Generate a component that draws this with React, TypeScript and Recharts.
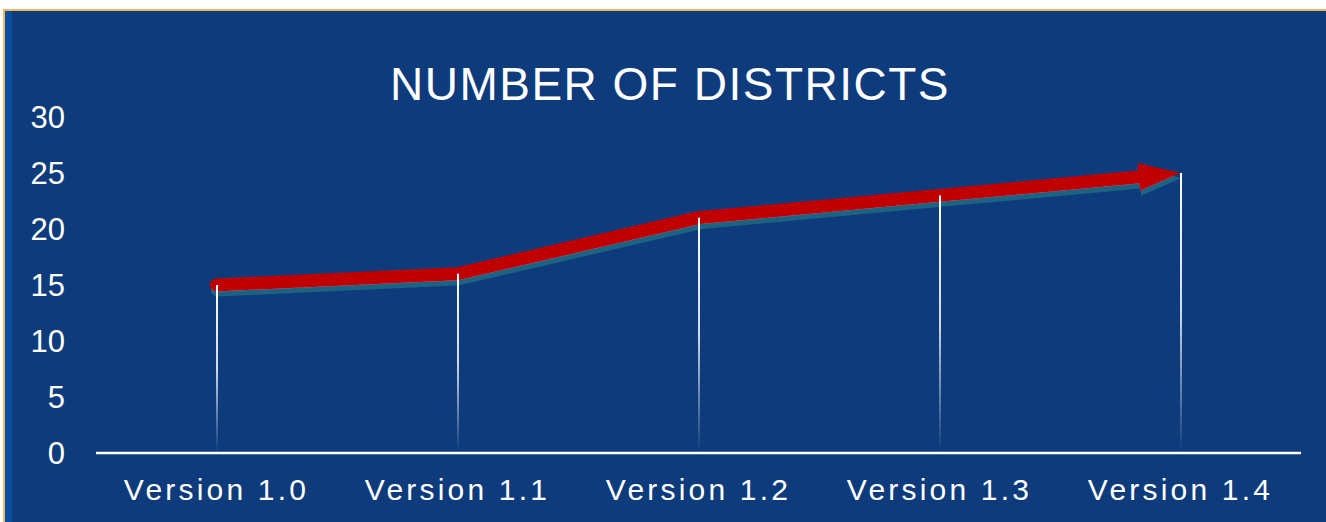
import React from 'react';
import { ComposedChart, Line, Bar, XAxis, YAxis } from 'recharts';

const categories = ['Version 1.0', 'Version 1.1', 'Version 1.2', 'Version 1.3', 'Version 1.4'];
const districts = [15, 16, 21, 23, 25];
const yTicks = [0, 5, 10, 15, 20, 25, 30];
const title = 'NUMBER OF DISTRICTS';

const data = categories.map((c, i) => ({ version: c, districts: districts[i] }));

const FONT = '"Liberation Sans", Arial, Helvetica, sans-serif';
const BG = '#0e3b7b';
const MARGIN = { top: 117, right: 25, bottom: 0, left: 0 };

export default function App() {
  const xAxis = (visible: boolean) => (
    <XAxis
      dataKey="version"
      height={69}
      axisLine={visible ? { stroke: '#ffffff', strokeWidth: 2.5 } : false}
      tickLine={false}
      tickSize={0}
      tickMargin={26}
      tick={visible ? { fill: '#ffffff', fontSize: 30, fontFamily: FONT, letterSpacing: 3.2 } : false}
    />
  );
  const yAxis = (visible: boolean) => (
    <YAxis
      domain={[0, 30]}
      ticks={yTicks}
      width={96}
      axisLine={false}
      tickLine={false}
      tickSize={0}
      tickMargin={31}
      tick={visible ? { fill: '#ffffff', fontSize: 31, fontFamily: FONT } : false}
    />
  );
  return (
    <div style={{ position: 'absolute', left: 0, top: 0, width: 1326, height: 522, background: '#ffffff', overflow: 'hidden' }}>
      <div style={{ position: 'absolute', left: 3, top: 9, width: 1323, height: 513, background: '#f3b85c' }} />
      <div style={{ position: 'absolute', left: 5, top: 11, width: 1321, height: 511, background: BG }} />
      <div style={{ position: 'absolute', left: 5, top: 11, width: 7, height: 511, background: '#0a4f9f' }} />
      <div style={{ position: 'absolute', left: 0, top: 0 }}>
        <ComposedChart width={1326} height={522} data={data} margin={MARGIN}>
          <defs>
            <filter id="arrowShadow" filterUnits="userSpaceOnUse" x="0" y="0" width="1326" height="522">
              <feDropShadow dx="1" dy="5" stdDeviation="0.4" floodColor="#1d6482" floodOpacity={1} />
            </filter>
            <marker id="arrowHead" markerUnits="userSpaceOnUse" markerWidth="50" markerHeight="40" viewBox="0 0 50 40" refX="42" refY="20" orient="auto">
              <path d="M0,6 L42,20 L0,34 Z" fill="#c00000" />
            </marker>
          </defs>
          {xAxis(true)}
          {yAxis(true)}
          <Bar dataKey="districts" barSize={2} fill="transparent" isAnimationActive={false} />
          <Line
            dataKey="districts"
            type="linear"
            stroke="#c00000"
            strokeWidth={13}
            strokeLinecap="round"
            strokeLinejoin="miter"
            pathLength={1000}
            strokeDasharray="976 1000"
            markerEnd="url(#arrowHead)"
            filter="url(#arrowShadow)"
            dot={false}
            activeDot={false}
            isAnimationActive={false}
          />
        </ComposedChart>
      </div>
      <div style={{ position: 'absolute', left: 0, top: 0 }}>
        <ComposedChart width={1326} height={522} data={data} margin={MARGIN}>
          <defs>
            <linearGradient id="dropGrad" x1="0" y1="0" x2="0" y2="1">
              <stop offset="0%" stopColor="#ffffff" stopOpacity={1} />
              <stop offset="50%" stopColor="#ffffff" stopOpacity={0.8} />
              <stop offset="100%" stopColor="#ffffff" stopOpacity={0} />
            </linearGradient>
          </defs>
          {xAxis(false)}
          {yAxis(false)}
          <Bar dataKey="districts" barSize={2} fill="url(#dropGrad)" isAnimationActive={false} />
        </ComposedChart>
      </div>
      <svg style={{ position: 'absolute', left: 0, top: 0 }} width={1326} height={522}>
        <text x={670} y={100} textAnchor="middle" fill="#ffffff" fontSize={46} fontFamily={FONT} letterSpacing={1.5}>
          {title}
        </text>
      </svg>
    </div>
  );
}
